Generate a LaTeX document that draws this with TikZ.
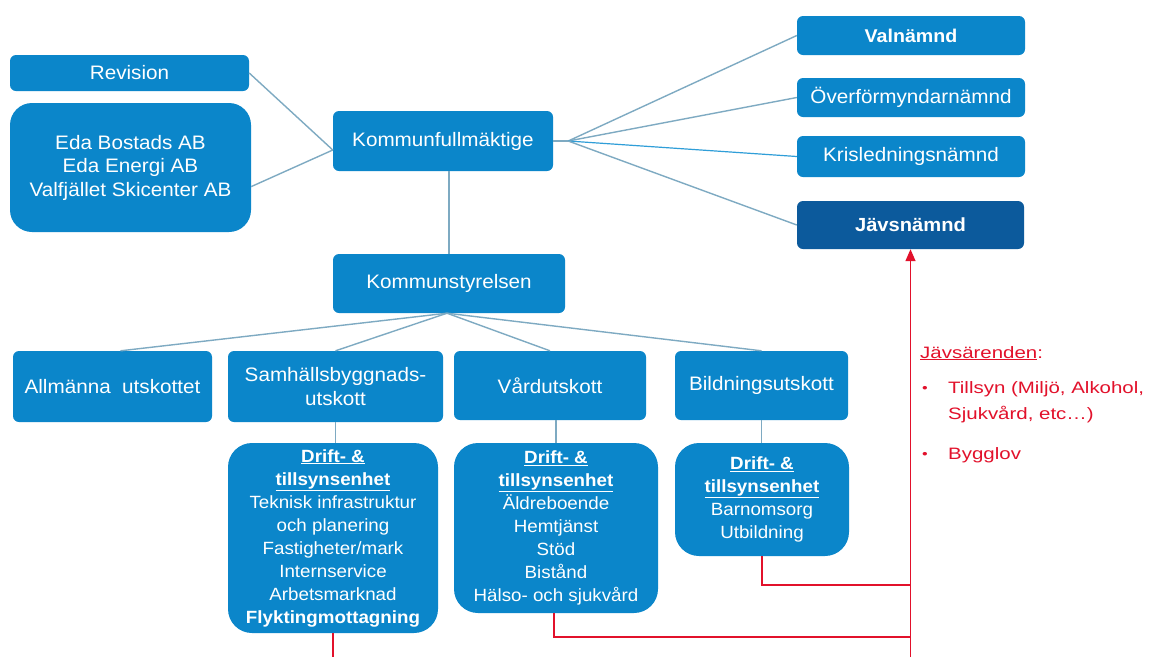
\documentclass[tikz,border=0pt]{standalone}
\usepackage{fontspec}
\setmainfont{Liberation Sans}[FakeStretch=1.06]
\newfontfamily\redfont{Liberation Sans}[FakeStretch=1.24]
\usetikzlibrary{arrows.meta,calc}
\definecolor{boxblue}{HTML}{0B86CA}
\definecolor{darkblue}{HTML}{0C5A9C}
\definecolor{linkgray}{HTML}{7EAAC2}
\definecolor{linkblue}{HTML}{2F9ED8}
\definecolor{redline}{HTML}{E2112B}
\begin{document}
\begin{tikzpicture}[x=1pt,y=-1pt,
  box/.style={fill=boxblue, rounded corners=6pt, text=white, align=center, inner sep=0pt,
    font=\fontsize{19.5}{23.5}\selectfont},
  bigbox/.style={box, rounded corners=22pt},
  driftbox/.style={box, rounded corners=24pt, font=\fontsize{17.7}{23}\selectfont},
  link/.style={draw=linkgray, line width=1.4pt},
  redlink/.style={draw=redline, line width=1.4pt},
  redtxt/.style={text=redline, inner sep=0pt, anchor=base west, font=\redfont\fontsize{16.5}{20}\selectfont}
]
\useasboundingbox (0,0) rectangle (1149,657);
\fill[white] (0,0) rectangle (1149,657);

% nodes
\node[box, minimum width=239pt, minimum height=36pt] (rev) at (129.5,73) {Revision};
\node[bigbox, minimum width=241pt, minimum height=129pt] (comp) at (130.5,167.5)
  {\fontsize{19.5}{25}\selectfont Eda Bostads AB\\Eda Energi AB\\Valfjället Skicenter AB};
\node[box, minimum width=220pt, minimum height=60pt] (kf) at (443,141) {Kommunfullmäktige};

\node[box, minimum width=228pt, minimum height=39pt, font=\fontsize{18.5}{22}\selectfont\bfseries] (val) at (911,35.5) {Valnämnd};
\node[box, minimum width=228pt, minimum height=39pt] (ofm) at (911,97.5) {Överförmyndarnämnd};
\node[box, minimum width=228pt, minimum height=41pt] (kris) at (911,156.5) {Krisledningsnämnd};
\node[box, fill=darkblue, minimum width=227pt, minimum height=48pt, font=\fontsize{19}{22}\selectfont\bfseries] (jav) at (910.5,225) {Jävsnämnd};

\node[box, minimum width=232pt, minimum height=59pt] (ks) at (449,283.5) {Kommunstyrelsen};

\node[box, minimum width=199pt, minimum height=71pt] (allm) at (112.5,386.5) {Allmänna\ \ utskottet};
\node[box, minimum width=215pt, minimum height=71pt] (samh) at (335.5,386.5) {Samhällsbyggnads-\\utskott};
\node[box, minimum width=192pt, minimum height=69pt] (vard) at (550,385.5) {Vårdutskott};
\node[box, minimum width=173pt, minimum height=69pt] (bild) at (761.5,385.5) {Bildningsutskott};

\node[driftbox, minimum width=210pt, minimum height=190pt] (d1) at (333,538)
  {\raisebox{-3pt}{\parbox{200pt}{\centering\underline{\textbf{Drift- \&}}\\\underline{\textbf{tillsynsenhet}}\\Teknisk infrastruktur\\och planering\\Fastigheter/mark\\Internservice\\Arbetsmarknad\\\textbf{Flyktingmottagning}}}};
\node[driftbox, minimum width=204pt, minimum height=170pt] (d2) at (556,528)
  {\raisebox{-3pt}{\parbox{196pt}{\centering\underline{\textbf{Drift- \&}}\\\underline{\textbf{tillsynsenhet}}\\Äldreboende\\Hemtjänst\\Stöd\\Bistånd\\Hälso- och sjukvård}}};
\node[driftbox, minimum width=174pt, minimum height=113pt] (d3) at (762,499.5)
  {\raisebox{-2pt}{\parbox{166pt}{\centering\underline{\textbf{Drift- \&}}\\\underline{\textbf{tillsynsenhet}}\\Barnomsorg\\Utbildning}}};

% helper coordinates
\coordinate (kfL) at ([yshift=-9pt]kf.west);
\coordinate (kfR) at ([xshift=15pt]kf.east);
\coordinate (ksB) at ([xshift=-2pt]ks.south);
\coordinate (bottom1) at (d1.south |- 0,657);
\coordinate (r2) at (d2.south |- 0,637);
\coordinate (r3) at (d3.south |- 0,585);
\coordinate (rbot) at (jav.south |- 0,657);

% blue/gray connectors
\draw[link] (rev.east) -- (kfL);
\draw[link] (comp.-9) -- (kfL);
\draw[link] (kf.east) -- (kfR);
\draw[link] (kfR) -- (val.west);
\draw[link] (kfR) -- (ofm.west);
\draw[draw=linkblue, line width=1.2pt] (kfR) -- (kris.west);
\draw[link] (kfR) -- (jav.west);
\draw[link] (ks.north |- kf.south) -- (ks.north);
\draw[link] (ksB) -- ([xshift=8pt]allm.north);
\draw[link] (ksB) -- (samh.north);
\draw[link] (ksB) -- (vard.north);
\draw[link] (ksB) -- (bild.north);
\draw[link] (samh.south) -- (samh.south |- d1.north);
\draw[link] (d2.north |- vard.south) -- (d2.north);
\draw[link] (bild.south) -- (bild.south |- d3.north);

% red connectors
\draw[redlink] (d1.south) -- (bottom1);
\draw[redlink] ([xshift=-2pt]d2.south) -- ([xshift=-2pt]r2) -- (r2 -| rbot);
\draw[redlink] (d3.south) -- (r3) -- (r3 -| rbot);
\draw[redlink, -{Triangle[length=12pt,width=10pt]}] (rbot) -- (jav.south);

% red text
\node[redtxt] (jtitle) at (920,358) {\underline{Jävsärenden}:};
\node[redtxt, font=\redfont\fontsize{13}{16}\selectfont] (b1) at (922,392) {•};
\node[redtxt] (t1) at (948,393) {Tillsyn (Miljö, Alkohol,};
\node[redtxt] (t2) at (948,419) {Sjukvård, etc…)};
\node[redtxt, font=\redfont\fontsize{13}{16}\selectfont] (b2) at (922,458) {•};
\node[redtxt] (t3) at (948,459) {Bygglov};
\end{tikzpicture}
\end{document}
